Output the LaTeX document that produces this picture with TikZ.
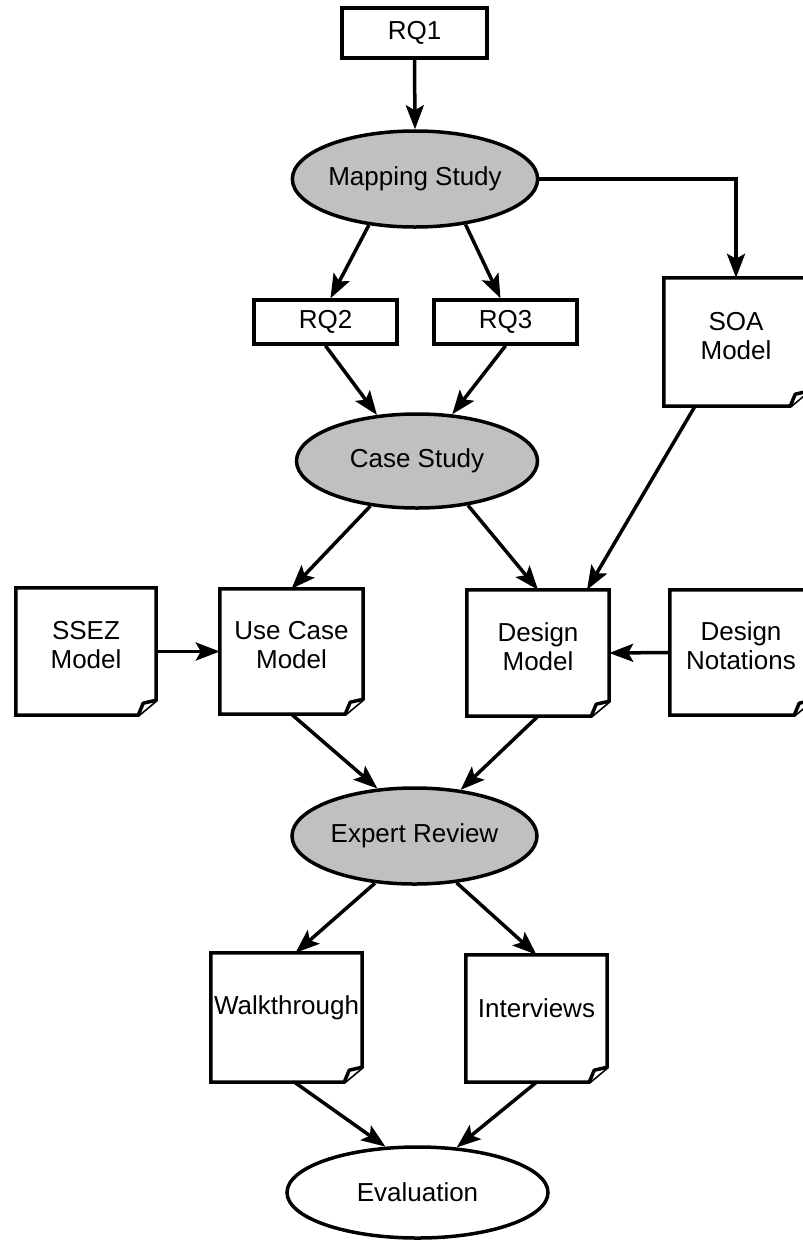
\documentclass[tikz,border=0pt]{standalone}
\usepackage{fontspec}
\setmainfont{Liberation Sans}
\usetikzlibrary{shapes.geometric,arrows.meta}
\definecolor{stagegray}{HTML}{C0C0C0}
\newcommand{\labelfont}{\fontsize{26pt}{29pt}\selectfont}
\tikzset{
  base/.style={line width=3.5pt},
  stage/.style={ellipse, draw, base, fill=stagegray, inner sep=0pt, font=\labelfont},
  question/.style={rectangle, draw, base, inner sep=0pt, minimum width=143pt, minimum height=44pt, font=\labelfont},
  docbox/.style={rectangle, inner sep=0pt},
  doctext/.style={align=center, font=\labelfont, inner sep=0pt},
  flow/.style={base, -{Stealth[length=24pt,width=18pt,inset=5pt]}},
  docline/.style={base, line join=miter}
}
% document symbol: box with a dog-eared lower right corner
\newcommand{\docoutline}[1]{%
  \draw[docline] (#1.north west) -- (#1.north east) -- ([yshift=15pt]#1.south east)
    -- ([xshift=-18pt]#1.south east) -- (#1.south west) -- cycle;
  \draw[docline, line join=round, fill=white] ([xshift=-18pt]#1.south east)
    -- ([xshift=-13pt,yshift=12pt]#1.south east) -- ([yshift=15pt]#1.south east);
}
\begin{document}
\begin{tikzpicture}[x=1pt,y=-1pt]
\useasboundingbox (0,0) rectangle (803,1240);

% research questions and activities
\node[question, minimum width=145pt, minimum height=50pt] (rq1) at (414.5,33) {RQ1};
\node[stage, minimum width=243pt, minimum height=96pt] (ms) at (415,179) {Mapping Study};
\node[question] (rq2) at (325.5,322) {RQ2};
\node[question] (rq3) at (505.5,322) {RQ3};
\node[stage, minimum width=241pt, minimum height=94pt] (cs) at (417,461) {Case Study};
\node[stage, minimum width=245pt, minimum height=96pt] (er) at (414.5,836) {Expert Review};
\node[stage, fill=white, minimum width=261pt, minimum height=91pt] (ev) at (417.5,1192.5) {Evaluation};

% documents
\node[docbox, minimum width=144pt, minimum height=128pt] (soa) at (736,342) {};
\node[docbox, minimum width=140pt, minimum height=127pt] (ssez) at (86,651.5) {};
\node[docbox, minimum width=143pt, minimum height=125pt] (uc) at (291.5,651.5) {};
\node[docbox, minimum width=142pt, minimum height=126pt] (dm) at (538,653) {};
\node[docbox, minimum width=142pt, minimum height=125pt] (dn) at (741,652.5) {};
\node[docbox, minimum width=151pt, minimum height=129pt] (wt) at (286.5,1017.5) {};
\node[docbox, minimum width=141pt, minimum height=127pt] (iv) at (536.5,1018.5) {};

\foreach \d in {soa,ssez,uc,dm,dn,wt,iv} {\docoutline{\d}}

\node[doctext] (soa-txt) at ([yshift=6pt]soa.center) {SOA\\Model};
\node[doctext] (ssez-txt) at ([yshift=6pt]ssez.center) {SSEZ\\Model};
\node[doctext] (uc-txt) at ([yshift=6pt]uc.center) {Use Case\\Model};
\node[doctext] (dm-txt) at ([yshift=6pt]dm.center) {Design\\Model};
\node[doctext] (dn-txt) at ([yshift=7pt]dn.center) {Design\\Notations};
\node[doctext] (wt-txt) at ([yshift=10pt]wt.center) {Walkthrough};
\node[doctext] (iv-txt) at ([yshift=10pt]iv.center) {Interviews};

% connectors
\draw[flow] (rq1.south) -- (ms.north);
\draw[flow] (ms.225) -- ([xshift=5pt]rq2.north);
\draw[flow] (ms.318) -- ([xshift=-5pt]rq3.north);
\draw[flow] (ms.east) -| (soa.north);
\draw[flow] (rq2.south) -- (cs.131);
\draw[flow] (rq3.south) -- (cs.53);
\draw[flow] (cs.224) -- (uc.north);
\draw[flow] (cs.319) -- (dm.north);
\draw[flow] ([xshift=-41pt]soa.south) -- ([xshift=49pt]dm.north);
\draw[flow] (ssez.east) -- (uc.west);
\draw[flow] (dn.west) -- (dm.east);
\draw[flow] (uc.south) -- (er.128);
\draw[flow] (dm.south) -- (er.45);
\draw[flow] (er.230) -- ([xshift=9pt]wt.north);
\draw[flow] (er.312) -- (iv.north);
\draw[flow] ([xshift=8pt]wt.south) -- (ev.125);
\draw[flow] (iv.south) -- (ev.49);
\end{tikzpicture}
\end{document}
